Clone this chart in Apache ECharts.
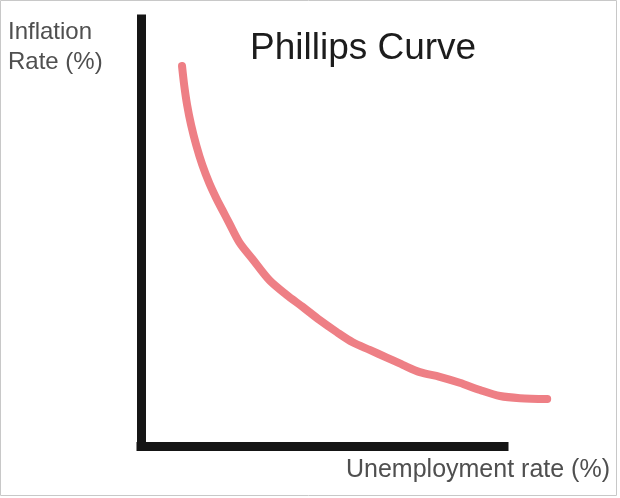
<!DOCTYPE html>
<html>
<head>
<meta charset="utf-8">
<script src="https://cdn.jsdelivr.net/npm/echarts@6/dist/echarts.min.js"></script>
<style>
html,body{margin:0;padding:0;background:#fff;}
#chart{width:620px;height:498px;}
</style>
</head>
<body>
<div id="chart"></div>
<script>
// Phillips curve: unemployment (x) vs inflation (y), arbitrary units
const unemployment = [1.13,1.19,1.27,1.38,1.52,1.69,1.88,2.07,2.24,2.43,2.71,3.07,3.54,4.01,4.45,4.92,5.39,5.83,6.30,6.77,7.21,7.68,8.23,8.78,9.34,9.89,10.44,11.19];
const inflation    = [8.90,8.45,7.99,7.52,7.05,6.58,6.16,5.81,5.53,5.22,4.77,4.38,3.88,3.54,3.26,2.95,2.67,2.43,2.25,2.07,1.90,1.73,1.62,1.48,1.31,1.17,1.12,1.10];
const titleText = 'Phillips Curve';
const xName = 'Unemployment rate (%)';
const yNameLines = ['Inflation', 'Rate (%)'];
const axisMax = 10;

const curveData = unemployment.map((u, i) => [u, inflation[i]]);

const chart = echarts.init(document.getElementById('chart'), null, {renderer: 'canvas'});
const gridLeft = 141, gridTop = 19, gridBottom = 52;
const axisWidthPx = 363; // width of drawn x-axis (0..axisMax)
const pxPerUnit = axisWidthPx / axisMax;
const curveMax = 12;

const axisLine = {show: true, onZero: false, lineStyle: {color: '#151515', width: 9, cap: 'square'}};

chart.setOption({
  animation: false,
  backgroundColor: '#ffffff',
  grid: [
    {left: gridLeft, top: gridTop, bottom: gridBottom, width: axisWidthPx},
    {left: gridLeft, top: gridTop, bottom: gridBottom, width: pxPerUnit * curveMax}
  ],
  xAxis: [
    {gridIndex: 0, type: 'value', min: 0, max: axisMax, axisLine: axisLine,
     axisTick: {show: false}, axisLabel: {show: false}, splitLine: {show: false}},
    {gridIndex: 1, type: 'value', min: 0, max: curveMax, show: false}
  ],
  yAxis: [
    {gridIndex: 0, type: 'value', min: 0, max: axisMax, axisLine: axisLine,
     axisTick: {show: false}, axisLabel: {show: false}, splitLine: {show: false}},
    {gridIndex: 1, type: 'value', min: 0, max: axisMax, show: false}
  ],
  series: [{
    type: 'line',
    xAxisIndex: 1, yAxisIndex: 1,
    data: curveData,
    smooth: 0.3,
    showSymbol: false,
    symbol: 'none',
    clip: false,
    lineStyle: {color: '#ee7f85', width: 8, cap: 'round', join: 'round'}
  }],
  graphic: [
    {type: 'rect', shape: {x: 0.5, y: 0.5, width: 616, height: 495},
     style: {fill: 'none', stroke: '#c8c8c8', lineWidth: 1}, silent: true},
    {type: 'text', left: 250, top: 30,
     style: {text: titleText, font: '37px "Liberation Sans", Arial, sans-serif', fill: '#1c1c1c'}},
    {type: 'text', left: 346, top: 458,
     style: {text: xName, font: '25px "Liberation Sans", Arial, sans-serif', fill: '#4f4f4f'}},
    {type: 'text', left: 8, top: 17,
     style: {text: yNameLines.join('\n'), font: '24px "Liberation Sans", Arial, sans-serif', lineHeight: 30, fill: '#4f4f4f'}}
  ]
});
</script>
</body>
</html>
